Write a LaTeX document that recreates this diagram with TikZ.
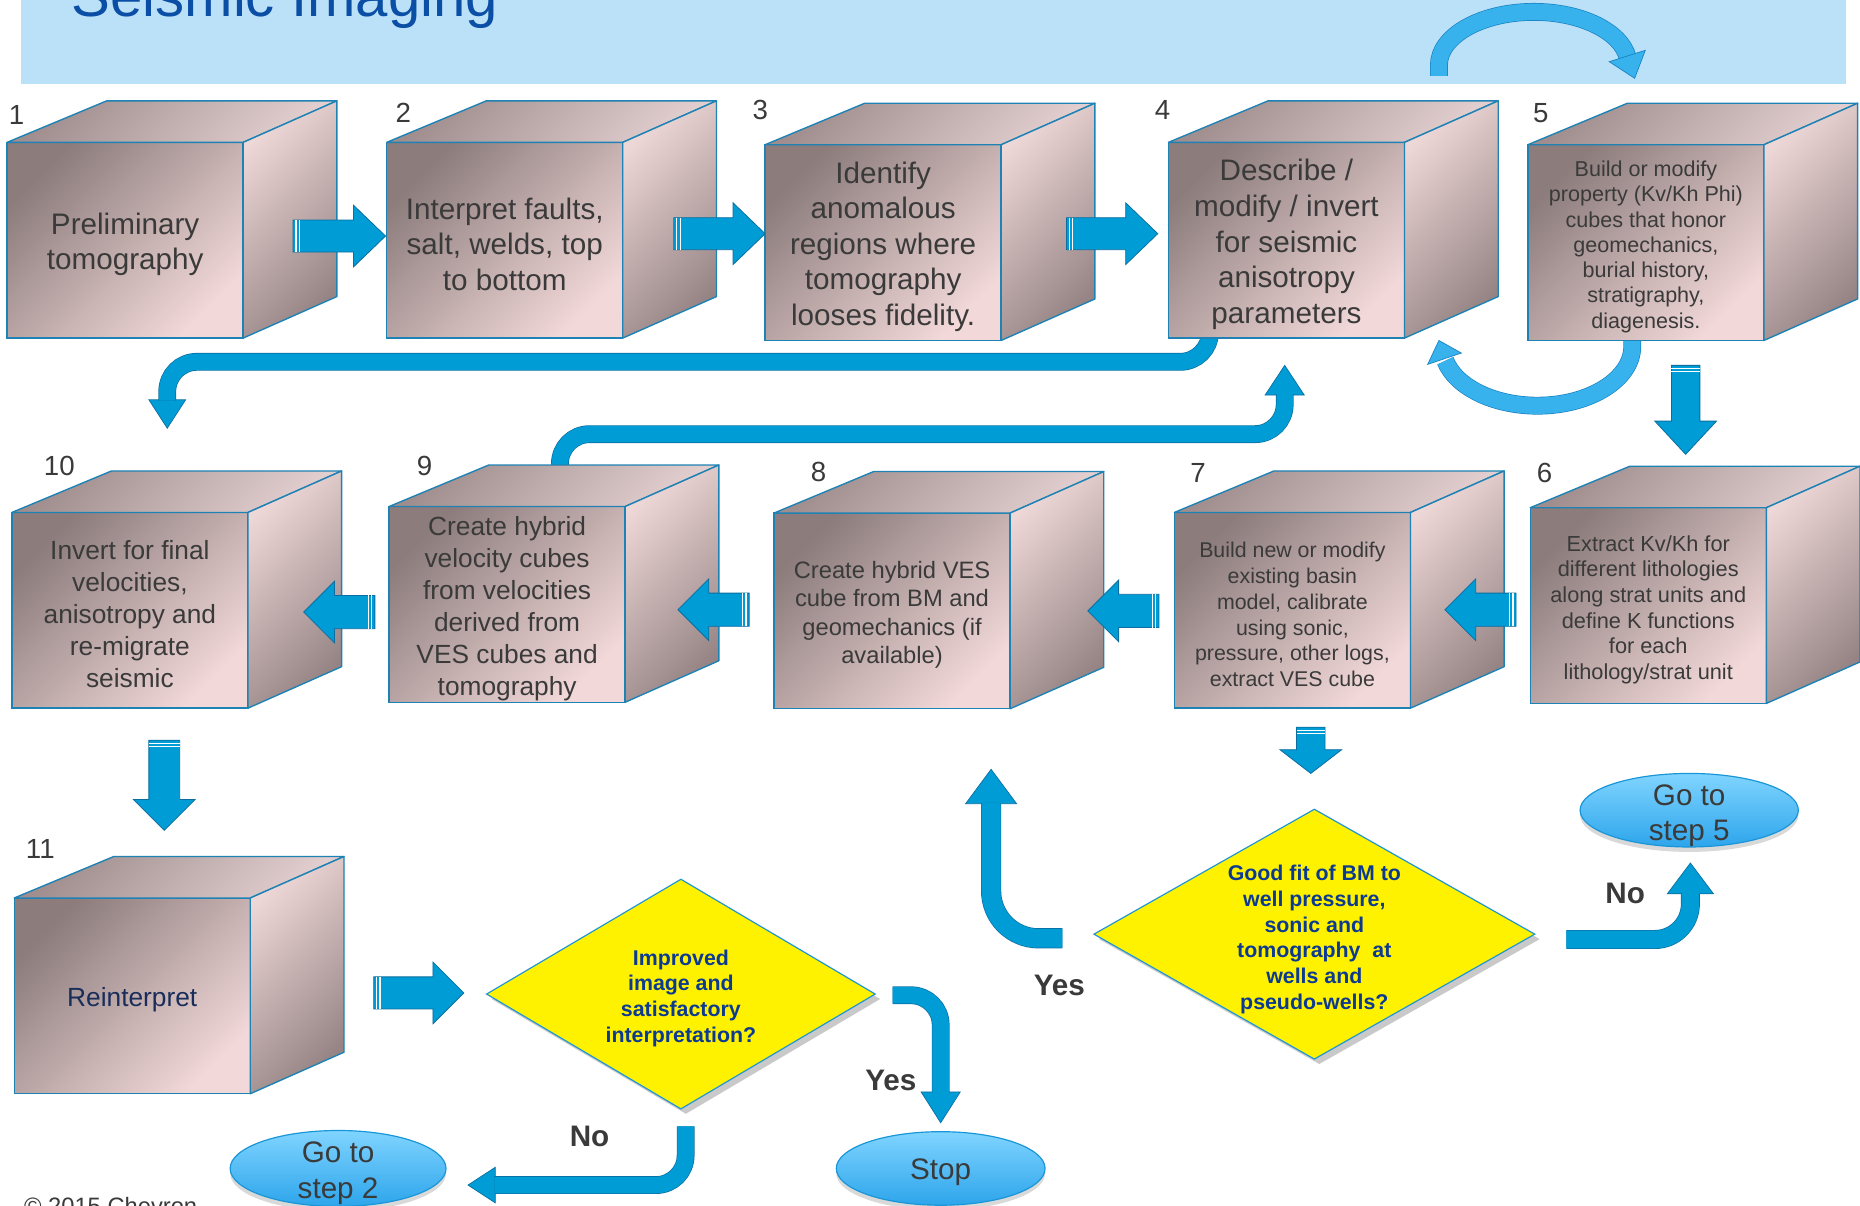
\documentclass[tikz,border=0pt]{standalone}
\usepackage{fontspec}
\setmainfont{Liberation Sans}
\usetikzlibrary{calc,shapes.geometric,shadows}

\pgfdeclarelayer{links}
\pgfsetlayers{links,main}

\definecolor{bandblue}{RGB}{186,225,248}
\definecolor{titleblue}{RGB}{11,78,166}
\definecolor{textgray}{RGB}{58,58,58}
\definecolor{navytext}{RGB}{25,45,90}
\definecolor{cfdark}{RGB}{140,124,124}
\definecolor{cflight}{RGB}{242,216,216}
\definecolor{sidelight}{RGB}{238,215,215}
\definecolor{sidedark}{RGB}{150,132,132}
\definecolor{topdark}{RGB}{160,142,142}
\definecolor{toplight}{RGB}{226,206,206}
\definecolor{cubeedge}{RGB}{30,130,180}
\definecolor{arrowblue}{RGB}{0,156,214}
\definecolor{arrowedge}{RGB}{12,110,160}
\definecolor{arcblue}{RGB}{55,178,236}
\definecolor{arcedge}{RGB}{25,130,195}
\definecolor{diaedge}{RGB}{30,150,210}
\definecolor{diatext}{RGB}{12,58,145}
\definecolor{elltop}{RGB}{128,212,255}
\definecolor{ellbot}{RGB}{45,165,235}
\definecolor{elledge}{RGB}{25,150,215}

\tikzset{
  frontface/.style={rectangle, draw=cubeedge, line width=0.7pt,
    top color=cfdark, bottom color=cflight, shading angle=45,
    minimum width=119.4pt, minimum height=99pt, inner sep=0pt, outer sep=0pt},
  facetext/.style={inner sep=0pt, align=center, text=textgray},
  topface/.style={draw=cubeedge, line width=0.7pt, line join=round,
    top color=topdark, bottom color=toplight, shading angle=45},
  sideface/.style={draw=cubeedge, line width=0.7pt, line join=round,
    top color=sidelight, bottom color=sidedark, shading angle=45},
  num/.style={inner sep=0pt, text=textgray, font=\fontsize{14}{16}\selectfont},
  yn/.style={inner sep=0pt, text=textgray, font=\bfseries\fontsize{15}{18}\selectfont},
  decision/.style={diamond, draw=diaedge, line width=0.6pt, fill=yellow, inner sep=0pt,
    drop shadow={shadow xshift=2.5pt, shadow yshift=-2.5pt, opacity=0.3, fill=black!70}},
  dtext/.style={inner sep=0pt, align=center, text=diatext,
    font=\bfseries\fontsize{10.8}{13}\selectfont},
  goto/.style={ellipse, draw=elledge, line width=0.6pt, top color=elltop, bottom color=ellbot,
    inner sep=0pt, drop shadow={shadow xshift=0pt, shadow yshift=-2.5pt, opacity=0.25, fill=black!60}},
  gtext/.style={inner sep=0pt, align=center, text=textgray, font=\fontsize{15}{18}\selectfont},
  shaft/.style={draw=arrowedge, line width=0.35pt, double=arrowblue, double distance=#1,
    rounded corners=15pt},
  head/.style={fill=arrowblue, draw=arrowedge, line width=0.35pt, line join=miter},
  arcshaft/.style={draw=arcedge, line width=0.35pt, double=arcblue, double distance=8.3pt},
  archead/.style={fill=arcblue, draw=arcedge, line width=0.35pt},
  pics/blockarrow/.style n args={3}{code={%
    \filldraw[fill=arrowblue, draw=arrowedge, line width=0.4pt]
      (0,-#3) -- ({#1-#2},-#3) -- ({#1-#2},-26) -- (#1,0) -- ({#1-#2},26)
      -- ({#1-#2},#3) -- (0,#3) -- cycle;
    \draw[white, line width=0.6pt] (2.6,-#3) -- (2.6,#3) (5.4,-#3) -- (5.4,#3);
  }},
}

% a cube: shaded front face, its top and right faces, and the caption on the front
\newcommand\cubeat[4]{%
  \node[frontface] (#1) at (#2) {};
  \path[topface] (#1.north west) -- ++(84,-35) -- ($(#1.north east)+(79,-35)$)
    -- (#1.north east) -- cycle;
  \path[sideface] (#1.north east) -- ++(79,-35) -- ($(#1.south east)+(79,-35)$)
    -- (#1.south east) -- cycle;
  \node[facetext, #3] (#1t) at ($(#1.center)+(0,3.5)$) {#4};
}

\begin{document}
\begin{tikzpicture}[x=0.6pt, y=-0.6pt]
\useasboundingbox (0,0) rectangle (1568,1016);
\clip (0,0) rectangle (1568,1016);

\node[anchor=base west, inner sep=0pt, text=titleblue,
  font=\fontsize{29.4}{32}\selectfont] (title) at (60,14) {Seismic Imaging};

% process cubes
\cubeat{c1}{105.5,202.5}{font=\fontsize{15}{18}\selectfont}{Preliminary\\tomography}
\cubeat{c2}{425.5,202.5}{font=\fontsize{15}{18}\selectfont}{Interpret faults,\\salt, welds, top\\to bottom}
\cubeat{c3}{744.5,204.5}{font=\fontsize{15}{18}\selectfont}{Identify\\anomalous\\regions where\\tomography\\looses fidelity.}
\cubeat{c4}{1084.5,202.5}{font=\fontsize{15}{18}\selectfont}{Describe /\\modify / invert\\for seismic\\anisotropy\\parameters}
\cubeat{c5}{1387.5,204.5}{font=\fontsize{10.9}{12.8}\selectfont}{Build or modify\\property (Kv/Kh Phi)\\cubes that honor\\geomechanics,\\burial history,\\stratigraphy,\\diagenesis.}
\cubeat{c10}{109.5,514.5}{font=\fontsize{13.3}{16.2}\selectfont}{Invert for final\\velocities,\\anisotropy and\\re-migrate\\seismic}
\cubeat{c9}{427.5,509.5}{font=\fontsize{13.3}{16.2}\selectfont}{Create hybrid\\velocity cubes\\from velocities\\derived from\\VES cubes and\\tomography}
\cubeat{c8}{752,515}{font=\fontsize{12}{14.4}\selectfont}{Create hybrid VES\\cube from BM and\\geomechanics (if\\available)}
\cubeat{c7}{1089.5,514.5}{font=\fontsize{10.8}{13.1}\selectfont}{Build new or modify\\existing basin\\model, calibrate\\using sonic,\\pressure, other logs,\\extract VES cube}
\cubeat{c6}{1389.5,510.5}{font=\fontsize{11}{13}\selectfont}{Extract Kv/Kh for\\different lithologies\\along strat units and\\define K functions\\for each\\lithology/strat unit}
\cubeat{c11}{111.5,839.5}{text=navytext, font=\fontsize{13.3}{16}\selectfont}{Reinterpret}

% step numbers
\node[num] (n1) at (14,97) {1};
\node[num] (n2) at (340,95) {2};
\node[num] (n3) at (641,93) {3};
\node[num] (n4) at (980,93) {4};
\node[num] (n5) at (1299,95) {5};
\node[num] (n10) at (50,393) {10};
\node[num] (n9) at (358,393) {9};
\node[num] (n8) at (690,398) {8};
\node[num] (n7) at (1010,399) {7};
\node[num] (n6) at (1302,399) {6};
\node[num] (n11) at (34,716) {11};

% decisions
\node[decision, minimum width=223.2pt, minimum height=126.6pt] (d2) at (1108,787.5) {};
\node[dtext] (d2t) at (1108,792) {Good fit of BM to\\well pressure,\\sonic and\\tomography\ \ at\\wells and\\pseudo-wells?};
\node[decision, minimum width=196.8pt, minimum height=116.4pt] (d1) at (574,838) {};
\node[dtext] (d1t) at (574,841.5) {Improved\\image and\\satisfactory\\interpretation?};

% terminals
\node[goto, minimum width=110.4pt, minimum height=37.2pt] (g5) at (1424,683) {};
\node[gtext] (g5t) at (1424,687.5) {Go to\\step 5};
\node[goto, minimum width=105.6pt, minimum height=37.2pt] (stop) at (793,985) {};
\node[gtext] (stopt) at (793,988) {Stop};
\node[goto, minimum width=109.2pt, minimum height=38.4pt] (g2) at (285,985) {};
\node[gtext] (g2t) at (285,989) {Go to\\step 2};

% answers
\node[yn] (yes2) at (893,831) {Yes};
\node[yn] (no2) at (1370,753) {No};
\node[yn] (yes1) at (751,911) {Yes};
\node[yn] (no1) at (497,958) {No};

\node[anchor=base west, inner sep=0pt, text=textgray, font=\fontsize{12}{14}\selectfont]
  (copy) at (20,1023.5) {© 2015 Chevron};

% straight block arrows between steps
\coordinate (a12) at ($(c1.east)+(42,-3.5)$);
\coordinate (a23) at ($(c2.east)+(43,-5.5)$);
\coordinate (a34) at ($(c3.east)+(55,-7.5)$);
\coordinate (a56) at ($(c5.south)+(33.5,21)$);
\coordinate (a65) at ($(c6.west)+(-12,3.5)$);
\coordinate (a78) at ($(c7.west)+(-13,0.5)$);
\coordinate (a89) at ($(c8.west)+(-21,-1)$);
\coordinate (a910) at ($(c9.west)+(-12,6.5)$);
\coordinate (a1011) at ($(c10.south)+(29,27)$);
\coordinate (a11d) at ($(c11.east)+(104,-2.5)$);
\coordinate (a7d) at ($(c7.south)+(15.5,16)$);
\pic at (a12) {blockarrow={78}{27}{13.5}};
\pic at (a23) {blockarrow={77}{27}{13.5}};
\pic at (a34) {blockarrow={77}{27}{13.5}};
\pic[rotate=-90] at (a56) {blockarrow={75}{28}{12}};
\pic[rotate=180] at (a65) {blockarrow={60}{26}{14}};
\pic[rotate=180] at (a78) {blockarrow={60}{26}{14}};
\pic[rotate=180] at (a89) {blockarrow={60}{26}{14}};
\pic[rotate=180] at (a910) {blockarrow={60}{26}{14}};
\pic[rotate=-90] at (a1011) {blockarrow={76}{26}{13}};
\pic at (a11d) {blockarrow={76}{26}{13.5}};
\pic[rotate=-90] at (a7d) {blockarrow={39}{20}{12}};

\begin{pgfonlayer}{links}
  \fill[bandblue] (18,-5) rectangle (1556,71);

  % 4 -> 5 over the top, 5 -> 4 underneath
  \coordinate (b7s) at ($(c4.north east)+(29,-56)$);
  \coordinate (b7t) at ($(c5.north west)+(90,-56)$);
  \draw[arcshaft] (b7s) -- ++(0,-9) arc[start angle=180, end angle=8, x radius=48pt, y radius=27pt];
  \filldraw[archead] ($(b7t)+(9,-23.6)$) -- (b7t) -- ($(b7t)+(-21.4,-14)$) -- cycle;
  \coordinate (b8s) at ($(c5.south west)+(88,-6)$);
  \coordinate (b8t) at ($(c4.south east)+(29,2)$);
  \draw[arcshaft] (b8s) -- ++(0,11) arc[start angle=0, end angle=-166, x radius=48pt, y radius=30pt];
  \filldraw[archead] ($(b8t)+(18.9,10.6)$) -- (b8t) -- ($(b8t)+(-9.5,20.2)$) -- cycle;

  % 4 -> 10
  \coordinate (b1s) at ($(c4.south west)+(35,-8)$);
  \coordinate (b1t) at ($(c10.north west)+(131,-71)$);
  \filldraw[head] ($(b1t)+(-15.5,-24)$) -- (b1t) -- ($(b1t)+(15.5,-24)$) -- cycle;
  \draw[shaft=8.3pt] (b1s) |- ($(b1t)+(0,-56)$) -- ($(b1t)+(0,-23.3)$);

  % 9 -> 4
  \coordinate (b2s) at ($(c9.north west)+(144,-27)$);
  \coordinate (b2t) at ($(c4.south west)+(98,23)$);
  \filldraw[head] ($(b2t)+(-16.5,25)$) -- (b2t) -- ($(b2t)+(16.5,25)$) -- cycle;
  \draw[shaft=8.3pt] (b2s) |- ($(b2t)+(0,58)$) -- ($(b2t)+(0,24.3)$);

  % good fit: yes -> 8, no -> go to step 5
  \coordinate (b3s) at ($(d2.west)+(-26,3.5)$);
  \coordinate (b3t) at ($(c8.south west)+(183,51)$);
  \filldraw[head] ($(b3t)+(-21.5,29)$) -- (b3t) -- ($(b3t)+(21.5,29)$) -- cycle;
  \draw[shaft=9.5pt, rounded corners=24pt] (b3s) -| ($(b3t)+(0,28.3)$);
  \coordinate (b4s) at ($(d2.east)+(26,4.5)$);
  \coordinate (b4t) at ($(g5.south)+(1,13)$);
  \filldraw[head] ($(b4t)+(-19.5,26)$) -- (b4t) -- ($(b4t)+(19.5,26)$) -- cycle;
  \draw[shaft=8.9pt, rounded corners=18pt] (b4s) -| ($(b4t)+(0,25.3)$);

  % improved image: yes -> stop, no -> go to step 2
  \coordinate (b5s) at ($(d1.east)+(14,1)$);
  \coordinate (b5t) at ($(stop.north)+(0,-7)$);
  \filldraw[head] ($(b5t)+(-16.5,-26)$) -- (b5t) -- ($(b5t)+(16.5,-26)$) -- cycle;
  \draw[shaft=8.3pt] (b5s) -| ($(b5t)+(0,-25.3)$);
  \coordinate (b6s) at ($(d1.south)+(4,14)$);
  \coordinate (b6t) at ($(g2.east)+(18,14)$);
  \filldraw[head] ($(b6t)+(23,-15)$) -- (b6t) -- ($(b6t)+(23,15)$) -- cycle;
  \draw[shaft=8.3pt] (b6s) |- ($(b6t)+(22.3,0)$);
\end{pgfonlayer}
\end{tikzpicture}
\end{document}
